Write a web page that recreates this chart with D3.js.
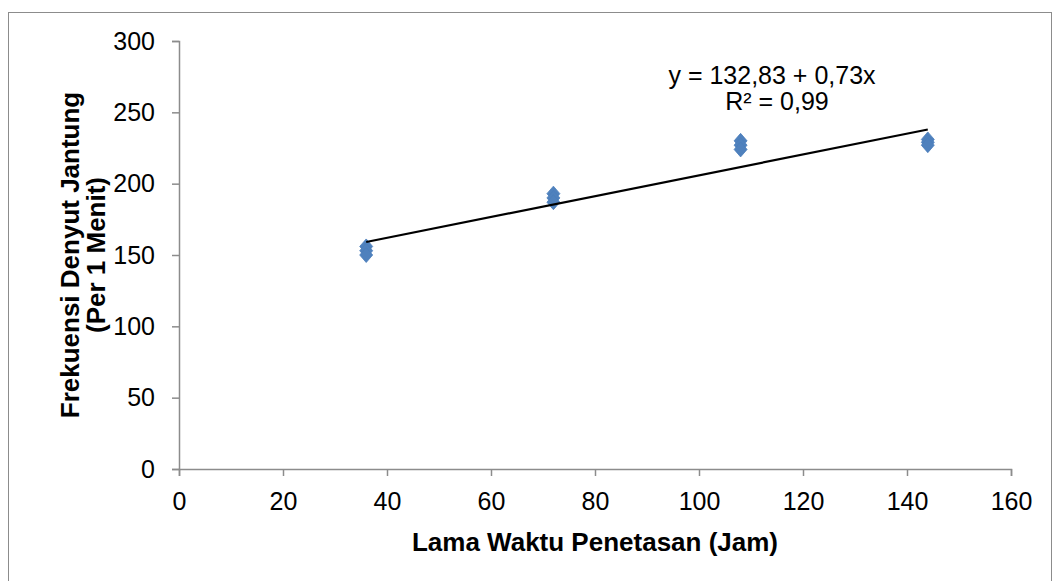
<!DOCTYPE html>
<html>
<head>
<meta charset="utf-8">
<script src="https://cdn.jsdelivr.net/npm/d3@7"></script>
<style>
  html, body { margin: 0; padding: 0; background: #fff; }
  svg { display: block; font-family: "Liberation Sans", Arial, sans-serif; }
</style>
</head>
<body>
<svg id="chart" width="1055" height="581"></svg>
<script>
// Observations: incubation time (hours) vs heart rate (beats per minute)
const hours = [36, 36, 36, 72, 72, 72, 108, 108, 108, 144, 144, 144];
const heartRate = [156, 153, 150, 193, 190, 187, 230, 227, 224, 231, 229, 227];
// Linear trendline reported in the chart
const intercept = 132.83;
const slope = 0.73;
const trendLabel = "y = 132,83 + 0,73x";
const r2Label = "R² = 0,99";
const xTicks = [0, 20, 40, 60, 80, 100, 120, 140, 160];
const yTicks = [0, 50, 100, 150, 200, 250, 300];

const svg = d3.select("#chart");
const W = 1055, H = 581;
const FONT = "Liberation Sans, Arial, sans-serif";

// outer chart frame
svg.append("rect")
  .attr("x", 8.5).attr("y", 12.5)
  .attr("width", W - 12).attr("height", H - 2)
  .attr("fill", "none").attr("stroke", "#8c8c8c").attr("stroke-width", 1);

const x = d3.scaleLinear().domain([0, 160]).range([179, 1011]);
const y = d3.scaleLinear().domain([0, 300]).range([469, 41]);

const axisColor = "#8c8c8c";

// y axis
const yAxis = svg.append("g")
  .attr("transform", `translate(${x(0)},0)`)
  .call(d3.axisLeft(y).tickValues(yTicks).tickSize(7).tickPadding(17).tickFormat(d3.format("d")));
yAxis.attr("font-size", 25).attr("font-family", FONT);
yAxis.select(".domain").attr("stroke", axisColor).attr("stroke-width", 1.5);
yAxis.selectAll(".tick line").attr("stroke", axisColor).attr("stroke-width", 1.5);
yAxis.selectAll("text").attr("fill", "#000");

// x axis
const xAxis = svg.append("g")
  .attr("transform", `translate(0,${y(0)})`)
  .call(d3.axisBottom(x).tickValues(xTicks).tickSize(7).tickPadding(16).tickFormat(d3.format("d")));
xAxis.attr("font-size", 25).attr("font-family", FONT);
xAxis.select(".domain").attr("stroke", axisColor).attr("stroke-width", 1.5);
xAxis.selectAll(".tick line").attr("stroke", axisColor).attr("stroke-width", 1.5);
xAxis.selectAll("text").attr("fill", "#000");

// data points (diamond markers)
const pts = hours.map((h, i) => ({ x: h, y: heartRate[i] }));
const diamond = "M0,-7.5 L6.5,0 L0,7.5 L-6.5,0 Z";
svg.append("g").selectAll("path")
  .data(pts).join("path")
  .attr("d", diamond)
  .attr("transform", d => `translate(${x(d.x)},${y(d.y)})`)
  .attr("fill", "#4F81BD")
  .attr("stroke", "#4A7EBB").attr("stroke-width", 0.8);

// trendline over observed range
const xMin = d3.min(hours), xMax = d3.max(hours);
svg.append("line")
  .attr("x1", x(xMin)).attr("y1", y(intercept + slope * xMin))
  .attr("x2", x(xMax)).attr("y2", y(intercept + slope * xMax))
  .attr("stroke", "#000").attr("stroke-width", 2.2);

// trendline equation
svg.append("text").attr("x", 772).attr("y", 84).attr("text-anchor", "middle")
  .attr("font-size", 25).text(trendLabel);
svg.append("text").attr("x", 777).attr("y", 110).attr("text-anchor", "middle")
  .attr("font-size", 25).text(r2Label);

// axis titles
svg.append("text").attr("x", 595).attr("y", 551).attr("text-anchor", "middle")
  .attr("font-size", 26).attr("font-weight", "bold").text("Lama Waktu Penetasan (Jam)");

const yt = svg.append("text").attr("transform", "translate(0,255) rotate(-90)")
  .attr("text-anchor", "middle").attr("font-size", 26).attr("font-weight", "bold");
yt.append("tspan").attr("x", 0).attr("y", 79).text("Frekuensi Denyut Jantung");
yt.append("tspan").attr("x", 0).attr("y", 105).text("(Per 1 Menit)");
</script>
</body>
</html>
